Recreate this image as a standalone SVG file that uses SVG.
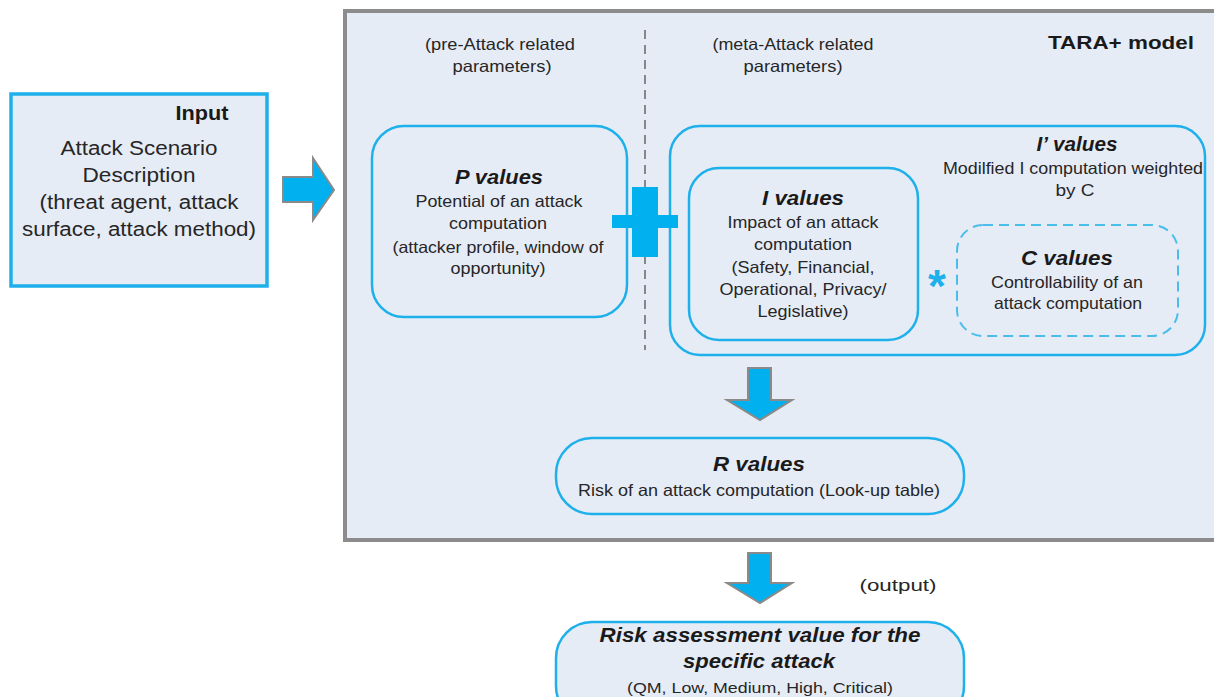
<svg xmlns="http://www.w3.org/2000/svg" width="1214" height="697" viewBox="0 0 1214 697">
  <style>
    text { font-family: "Liberation Sans", Arial, sans-serif; fill: #262626; text-anchor: middle; }
    .t { font-size: 16.5px; }
    .big { font-size: 20px; }
    .h { font-size: 19.5px; font-weight: bold; font-style: italic; fill: #1a1a1a; }
    .b { font-weight: bold; fill: #1a1a1a; }
    .box { fill: #e6ecf6; stroke: #1eb0ea; stroke-width: 2.5; }
    .arrow { fill: #00b0ef; stroke: #8a8a8a; stroke-width: 2; stroke-linejoin: miter; }
  </style>

  <rect width="1214" height="697" fill="#ffffff"/>

  <!-- TARA+ model frame -->
  <g id="tara-model">
    <rect x="345" y="11" width="890" height="529" fill="#e6ecf6" stroke="#8c8c8c" stroke-width="4"/>
    <line x1="645" y1="30" x2="645" y2="350" stroke="#666" stroke-width="1.5" stroke-dasharray="9 6"/>
    <text class="t" x="500" y="50" textLength="150" lengthAdjust="spacingAndGlyphs">(pre-Attack related</text>
    <text class="t" x="502" y="72" textLength="99" lengthAdjust="spacingAndGlyphs">parameters)</text>
    <text class="t" x="793" y="50" textLength="161" lengthAdjust="spacingAndGlyphs">(meta-Attack related</text>
    <text class="t" x="793" y="72" textLength="99" lengthAdjust="spacingAndGlyphs">parameters)</text>
    <text class="b" x="1121" y="49" style="font-size:18.5px" textLength="146" lengthAdjust="spacingAndGlyphs">TARA+ model</text>
  </g>

  <!-- Input -->
  <g id="input">
    <rect x="11" y="94" width="256" height="192" fill="#e6ecf6" stroke="#1eb0ea" stroke-width="3.5"/>
    <text class="b" x="202" y="120" style="font-size:19.5px" textLength="53" lengthAdjust="spacingAndGlyphs">Input</text>
    <text class="big" x="139" y="155" textLength="157" lengthAdjust="spacingAndGlyphs">Attack Scenario</text>
    <text class="big" x="139" y="182" textLength="113" lengthAdjust="spacingAndGlyphs">Description</text>
    <text class="big" x="139" y="209" textLength="199" lengthAdjust="spacingAndGlyphs">(threat agent, attack</text>
    <text class="big" x="139" y="236" textLength="234" lengthAdjust="spacingAndGlyphs">surface, attack method)</text>
  </g>

  <!-- P values -->
  <g id="p-values">
    <rect class="box" x="372" y="126" width="255" height="191" rx="32"/>
    <text class="h" x="499" y="184" textLength="88" lengthAdjust="spacingAndGlyphs">P values</text>
    <text class="t" x="499" y="207" textLength="167" lengthAdjust="spacingAndGlyphs">Potential of an attack</text>
    <text class="t" x="498" y="229" textLength="98" lengthAdjust="spacingAndGlyphs">computation</text>
    <text class="t" x="498" y="253" textLength="211" lengthAdjust="spacingAndGlyphs">(attacker profile, window of</text>
    <text class="t" x="498" y="274" textLength="95" lengthAdjust="spacingAndGlyphs">opportunity)</text>
  </g>

  <!-- I' values -->
  <g id="i-prime-values">
    <rect class="box" x="670" y="126" width="535" height="229" rx="30"/>
    <text class="h" x="1077" y="151" textLength="81" lengthAdjust="spacingAndGlyphs">I’ values</text>
    <text class="t" x="1073" y="174" textLength="260" lengthAdjust="spacingAndGlyphs">Modilfied I computation weighted</text>
    <text class="t" x="1075" y="196" textLength="39" lengthAdjust="spacingAndGlyphs">by C</text>
  </g>

  <!-- I values -->
  <g id="i-values">
    <rect class="box" x="689" y="168" width="229" height="172" rx="30"/>
    <text class="h" x="803" y="205" textLength="82" lengthAdjust="spacingAndGlyphs">I values</text>
    <text class="t" x="803" y="228" textLength="151" lengthAdjust="spacingAndGlyphs">Impact of an attack</text>
    <text class="t" x="803" y="250" textLength="98" lengthAdjust="spacingAndGlyphs">computation</text>
    <text class="t" x="803" y="273" textLength="143" lengthAdjust="spacingAndGlyphs">(Safety, Financial,</text>
    <text class="t" x="803" y="295" textLength="167" lengthAdjust="spacingAndGlyphs">Operational, Privacy/</text>
    <text class="t" x="803" y="317" textLength="91" lengthAdjust="spacingAndGlyphs">Legislative)</text>
  </g>

  <!-- C values -->
  <g id="c-values">
    <rect x="957" y="225" width="221" height="111" rx="26" fill="none" stroke="#4bbdec" stroke-width="2" stroke-dasharray="10 6"/>
    <text class="h" x="1067" y="265" textLength="92" lengthAdjust="spacingAndGlyphs">C values</text>
    <text class="t" x="1067" y="288" textLength="152" lengthAdjust="spacingAndGlyphs">Controllability of an</text>
    <text class="t" x="1068" y="309" textLength="148" lengthAdjust="spacingAndGlyphs">attack computation</text>
  </g>

  <!-- R values -->
  <g id="r-values">
    <rect class="box" x="556" y="438" width="408" height="76" rx="36"/>
    <text class="h" x="759" y="471" textLength="92" lengthAdjust="spacingAndGlyphs">R values</text>
    <text class="t" x="759" y="496" textLength="362" lengthAdjust="spacingAndGlyphs">Risk of an attack computation (Look-up table)</text>
  </g>

  <!-- Output -->
  <g id="risk-assessment">
    <rect class="box" x="556" y="622" width="408" height="100" rx="36"/>
    <text class="h" x="760" y="642" textLength="321" lengthAdjust="spacingAndGlyphs">Risk assessment value for the</text>
    <text class="h" x="759" y="668" textLength="152" lengthAdjust="spacingAndGlyphs">specific attack</text>
    <text class="t" x="760" y="693" style="font-size:15px" textLength="266" lengthAdjust="spacingAndGlyphs">(QM, Low, Medium, High, Critical)</text>
    <text class="t" x="898" y="591" style="font-size:17px" textLength="77" lengthAdjust="spacingAndGlyphs">(output)</text>
  </g>

  <!-- connectors and operators -->
  <g id="connectors">
    <polygon class="arrow" points="283,177 313,177 313,158 334,190 313,220 313,202 283,202"/>
    <path d="M632,187 H658 V215 H678 V228 H658 V257 H632 V228 H612 V215 H632 Z" fill="#00b0ef"/>
    <text x="937" y="302" style="font-size:46px;font-weight:bold;fill:#1eb0ea">*</text>
    <polygon class="arrow" points="748,368 771,368 771,400 792,400 760,420 727,400 748,400"/>
    <polygon class="arrow" points="748,553 771,553 771,583 792,583 760,603 727,583 748,583"/>
  </g>
</svg>
